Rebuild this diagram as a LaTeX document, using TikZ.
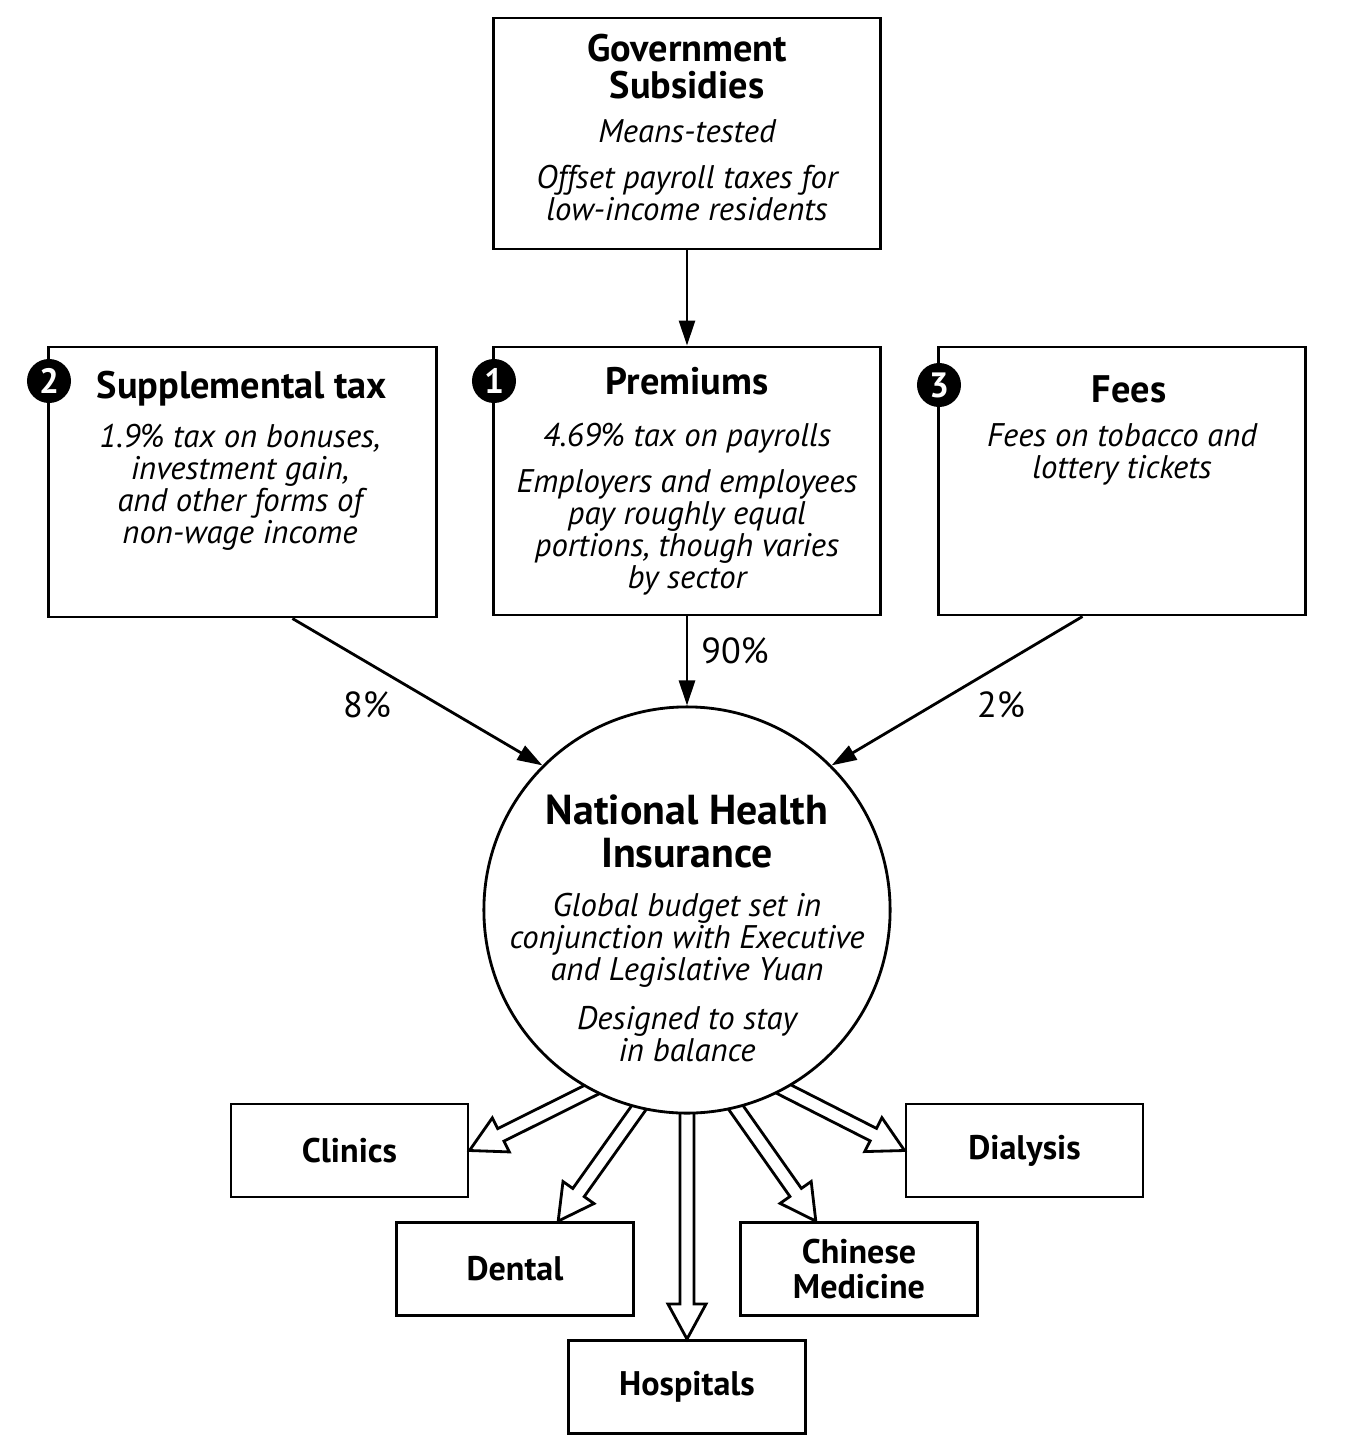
\documentclass[tikz,border=0pt]{standalone}
\usepackage{fontspec}
\setmainfont{PT Sans}
\usetikzlibrary{arrows.meta,calc}

\tikzset{
  box/.style={draw, thick, inner sep=0pt},
  title/.style={font=\bfseries\fontsize{10.9}{10.6}\selectfont, align=center, inner sep=0pt},
  body/.style={font=\itshape\fontsize{9.3}{9.1}\selectfont, align=center, inner sep=0pt},
  pct/.style={font=\fontsize{10.3}{12}\selectfont, inner sep=0pt},
  service/.style={box, minimum width=2.37cm, minimum height=0.93cm, align=center, font=\bfseries\fontsize{9.7}{9.8}\selectfont},
  badge/.style={circle, fill=black, text=white, font=\bfseries\fontsize{10}{12}\selectfont, minimum size=0.44cm, inner sep=0pt},
  flow/.style={thick, -{Triangle[length=0.25cm, width=0.16cm]}},
  hollow/.style={draw, thick, fill=white, line join=miter}
}

% hollow arrow from #1 to the tip #2
\newcommand{\hollowarrow}[2]{%
  \coordinate (hb) at ($(#2)!0.35cm!(#1)$);
  \draw[hollow] ($(#1)!0.07cm!90:(#2)$) -- ($(hb)!0.07cm!90:(#2)$) -- ($(hb)!0.19cm!90:(#2)$)
    -- (#2) -- ($(hb)!0.19cm!-90:(#2)$) -- ($(hb)!0.07cm!-90:(#2)$) -- ($(#1)!0.07cm!-90:(#2)$) -- cycle;
}

\begin{document}
\begin{tikzpicture}[x=0.01cm, y=-0.01cm]
    \useasboundingbox (0,0) rectangle (1350,1454);

    % Top box
    \node[box, minimum width=3.86cm, minimum height=2.31cm] (gov) at (687,133.5) {};
    \node[title] (govtitle) at (687,66.5) {Government\\Subsidies};
    \node[body] (govmeans) at (687,131) {Means-tested};
    \node[body] (govoffset) at (687,193) {Offset payroll taxes for\\low-income residents};

    % Funding boxes
    \node[box, minimum width=3.87cm, minimum height=2.70cm] (supp) at (242.5,482) {};
    \node[box, minimum width=3.86cm, minimum height=2.68cm] (prem) at (687,481) {};
    \node[box, minimum width=3.66cm, minimum height=2.68cm] (fees) at (1122,481) {};

    \node[title] (supptitle) at (242,389) {Supplemental tax};
    \node[body] (supptext) at (240,487) {1.9\% tax on bonuses,\\investment gain,\\and other forms of\\non-wage income};

    \node[title] (premtitle) at (687,381) {Premiums};
    \node[body] (premrate) at (687,438) {4.69\% tax on payrolls};
    \node[body] (premtext) at (687,532) {Employers and employees\\pay roughly equal\\portions, though varies\\by sector};

    \node[title] (feestitle) at (1129,389) {Fees};
    \node[body] (feestext) at (1122,454) {Fees on tobacco and\\lottery tickets};

    % Number badges
    \node[badge] (b2) at (49,381) {2};
    \node[badge] (b1) at (494,381) {1};
    \node[badge] (b3) at (939,385) {3};

    % Service boxes
    \node[service] (clinics) at (349.5,1150.5) {Clinics};
    \node[service] (dental) at (515,1269) {Dental};
    \node[service] (hospitals) at (687,1387) {Hospitals};
    \node[service] (chinese) at (859,1269) {Chinese\\Medicine};
    \node[service] (dialysis) at (1024.5,1150.5) {Dialysis};

    % Hollow arrows (start inside the circle)
    \coordinate (sclinics) at (615,1078);
    \coordinate (sdental) at (655,1085);
    \coordinate (shosp) at (687,1090);
    \coordinate (schinese) at (720,1085);
    \coordinate (sdialysis) at (760,1077);
    \hollowarrow{sclinics}{clinics.east}
    \hollowarrow{sdental}{$(dental.north west)!0.68!(dental.north east)$}
    \hollowarrow{shosp}{hospitals.north}
    \hollowarrow{schinese}{$(chinese.north west)!0.32!(chinese.north east)$}
    \hollowarrow{sdialysis}{dialysis.west}

    % Circle
    \node[circle, draw, thick, fill=white, minimum size=4.06cm, inner sep=0pt] (nhi) at (687,910) {};
    \node[title, font=\bfseries\fontsize{11.9}{12.2}\selectfont] (nhititle) at (687,831.5) {National Health\\Insurance};
    \node[body] (nhibudget) at (687,940) {Global budget set in\\conjunction with Executive\\and Legislative Yuan};
    \node[body] (nhibalance) at (687,1034) {Designed to stay\\in balance};

    % Arrows
    \draw[flow] (gov.south) -- (prem.north);
    \draw[flow] (prem.south) -- (nhi.north);
    \draw[flow] ($(supp.south west)!0.628!(supp.south east)$) -- (nhi.135);
    \draw[flow] ($(fees.south west)!0.393!(fees.south east)$) -- (nhi.45);

    % Shares
    \node[pct] (p8) at (367,705) {8\%};
    \node[pct] (p90) at (735,651) {90\%};
    \node[pct] (p2) at (1001,705) {2\%};

\end{tikzpicture}
\end{document}
